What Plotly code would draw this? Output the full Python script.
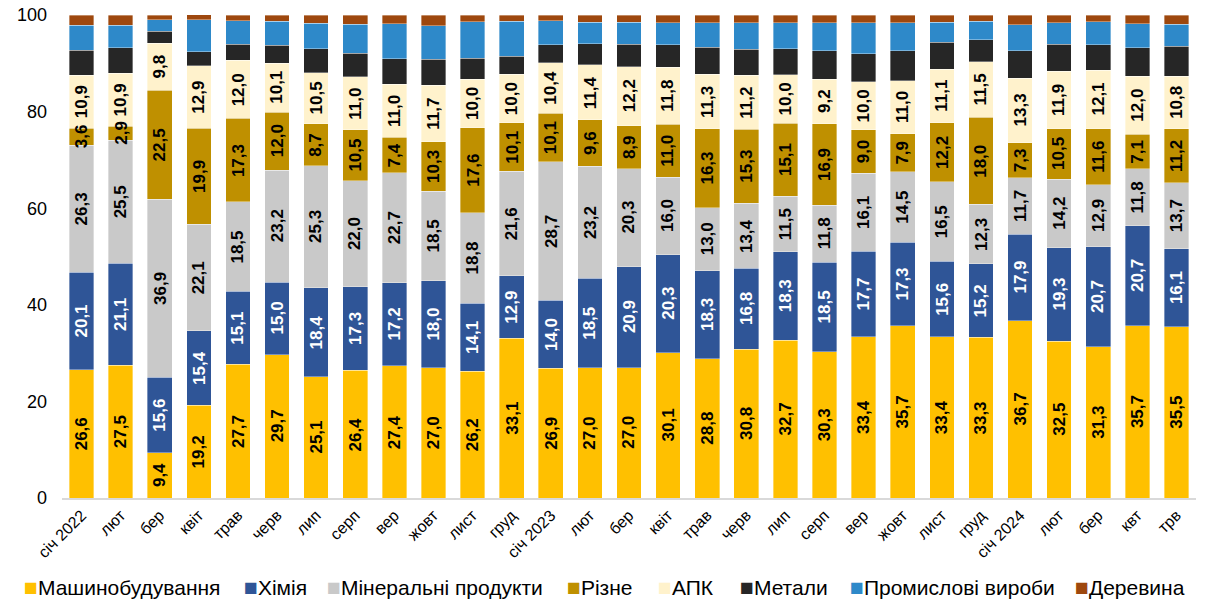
import plotly.graph_objects as go

categories = ["січ 2022", "лют", "бер", "квіт", "трав", "черв", "лип", "серп", "вер", "жовт", "лист", "груд",
              "січ 2023", "лют", "бер", "квіт", "трав", "черв", "лип", "серп", "вер", "жовт", "лист", "груд",
              "січ 2024", "лют", "бер", "квт", "трв"]

mashyno = [26.6, 27.5, 9.4, 19.2, 27.7, 29.7, 25.1, 26.4, 27.4, 27.0, 26.2, 33.1, 26.9, 27.0, 27.0, 30.1, 28.8, 30.8,
           32.7, 30.3, 33.4, 35.7, 33.4, 33.3, 36.7, 32.5, 31.3, 35.7, 35.5]
khimiya = [20.1, 21.1, 15.6, 15.4, 15.1, 15.0, 18.4, 17.3, 17.2, 18.0, 14.1, 12.9, 14.0, 18.5, 20.9, 20.3, 18.3, 16.8,
           18.3, 18.5, 17.7, 17.3, 15.6, 15.2, 17.9, 19.3, 20.7, 20.7, 16.1]
mineral = [26.3, 25.5, 36.9, 22.1, 18.5, 23.2, 25.3, 22.0, 22.7, 18.5, 18.8, 21.6, 28.7, 23.2, 20.3, 16.0, 13.0, 13.4,
           11.5, 11.8, 16.1, 14.5, 16.5, 12.3, 11.7, 14.2, 12.9, 11.8, 13.7]
rizne = [3.6, 2.9, 22.5, 19.9, 17.3, 12.0, 8.7, 10.5, 7.4, 10.3, 17.6, 10.1, 10.1, 9.6, 8.9, 11.0, 16.3, 15.3,
         15.1, 16.9, 9.0, 7.9, 12.2, 18.0, 7.3, 10.5, 11.6, 7.1, 11.2]
apk = [10.9, 10.9, 9.8, 12.9, 12.0, 10.1, 10.5, 11.0, 11.0, 11.7, 10.0, 10.0, 10.4, 11.4, 12.2, 11.8, 11.3, 11.2,
       10.0, 9.2, 10.0, 11.0, 11.1, 11.5, 13.3, 11.9, 12.1, 12.0, 10.8]
metaly = [5.2, 5.3, 2.4, 2.9, 3.3, 3.7, 5.0, 4.9, 5.2, 5.3, 4.3, 3.8, 3.7, 4.3, 4.6, 4.6, 5.6, 5.4,
          5.4, 5.9, 5.8, 6.2, 5.6, 4.6, 5.7, 5.5, 5.2, 5.9, 6.2]
promyslovi = [5.2, 4.7, 2.4, 6.6, 4.9, 5.0, 5.3, 6.0, 7.3, 7.0, 7.6, 7.2, 5.0, 4.5, 4.6, 4.6, 5.1, 5.5,
              5.4, 5.8, 6.4, 5.8, 4.1, 3.8, 5.4, 4.5, 4.8, 5.0, 4.6]
derevyna = [2.1, 2.1, 0.9, 1.1, 1.2, 1.2, 1.7, 1.9, 1.8, 2.2, 1.4, 1.3, 1.2, 1.5, 1.5, 1.6, 1.6, 1.6,
            1.6, 1.6, 1.6, 1.6, 1.5, 1.3, 2.0, 1.6, 1.4, 1.8, 1.9]

series = [
    ("Машинобудування", mashyno, "#FFC000", "#000000", True),
    ("Хімія", khimiya, "#2F5597", "#FFFFFF", True),
    ("Мінеральні продукти", mineral, "#C9C9C9", "#000000", True),
    ("Різне", rizne, "#BF9000", "#000000", True),
    ("АПК", apk, "#FFF2CC", "#000000", True),
    ("Метали", metaly, "#262626", "#000000", False),
    ("Промислові вироби", promyslovi, "#2E89C9", "#000000", False),
    ("Деревина", derevyna, "#9E480E", "#000000", False),
]

FONT = "Arial, Liberation Sans, sans-serif"
xs = list(range(len(categories)))

fig = go.Figure()
annotations = []
base = [0.0] * len(xs)
for name, vals, color, tcolor, labelled in series:
    fig.add_trace(go.Bar(
        x=xs, y=vals, name=name,
        marker=dict(color=color, line=dict(color="rgba(255,255,255,0.6)", width=0.6)),
        showlegend=False,
    ))
    if labelled:
        for i, v in enumerate(vals):
            annotations.append(dict(
                x=i, y=base[i] + v / 2, xref="x", yref="y",
                text="<b>" + f"{v:.1f}".replace(".", ",") + "</b>",
                textangle=-90, showarrow=False,
                font=dict(family=FONT, size=17, color=tcolor),
            ))
    base = [b + v for b, v in zip(base, vals)]

# legend drawn as text items (square marker + name), placed along the bottom
legend_x = [22, 242, 325, 565, 656, 738, 848, 1073]
plot_l, plot_w = 62, 1134
plot_b, plot_h = 600 - 102, 600 - 15 - 102
legend_y_px = 587
for (name, vals, color, tcolor, labelled), px in zip(series, legend_x):
    annotations.append(dict(
        x=(px - plot_l) / plot_w, y=(plot_b - legend_y_px) / plot_h,
        xref="paper", yref="paper", yanchor="middle", xanchor="left",
        text=f"<span style='color:{color};font-size:23px'>■</span>{name}",
        showarrow=False, font=dict(family=FONT, size=21, color="#000000"),
    ))

fig.update_layout(
    width=1211, height=600,
    barmode="stack", bargap=0.37,
    plot_bgcolor="white", paper_bgcolor="white",
    margin=dict(l=62, r=15, t=15, b=102, autoexpand=False),
    font=dict(family=FONT, color="#000000"),
    showlegend=False,
    annotations=annotations,
)

fig.update_xaxes(
    tickmode="array", tickvals=xs, ticktext=categories, range=[-0.5, len(xs) - 0.5],
    tickangle=-45, tickfont=dict(family=FONT, size=16, color="#000000"),
    showline=True, linecolor="#D9D9D9", linewidth=1.5, showgrid=False, ticks="", zeroline=False,
)
fig.update_yaxes(
    range=[0, 100], tickvals=[0, 20, 40, 60, 80, 100], showgrid=False, zeroline=False,
    tickfont=dict(family=FONT, size=18, color="#000000"), ticklabelstandoff=14, showline=False,
)

fig.write_html("out.html", config={"displayModeBar": False},
               post_script="document.body.style.margin='0px';")
